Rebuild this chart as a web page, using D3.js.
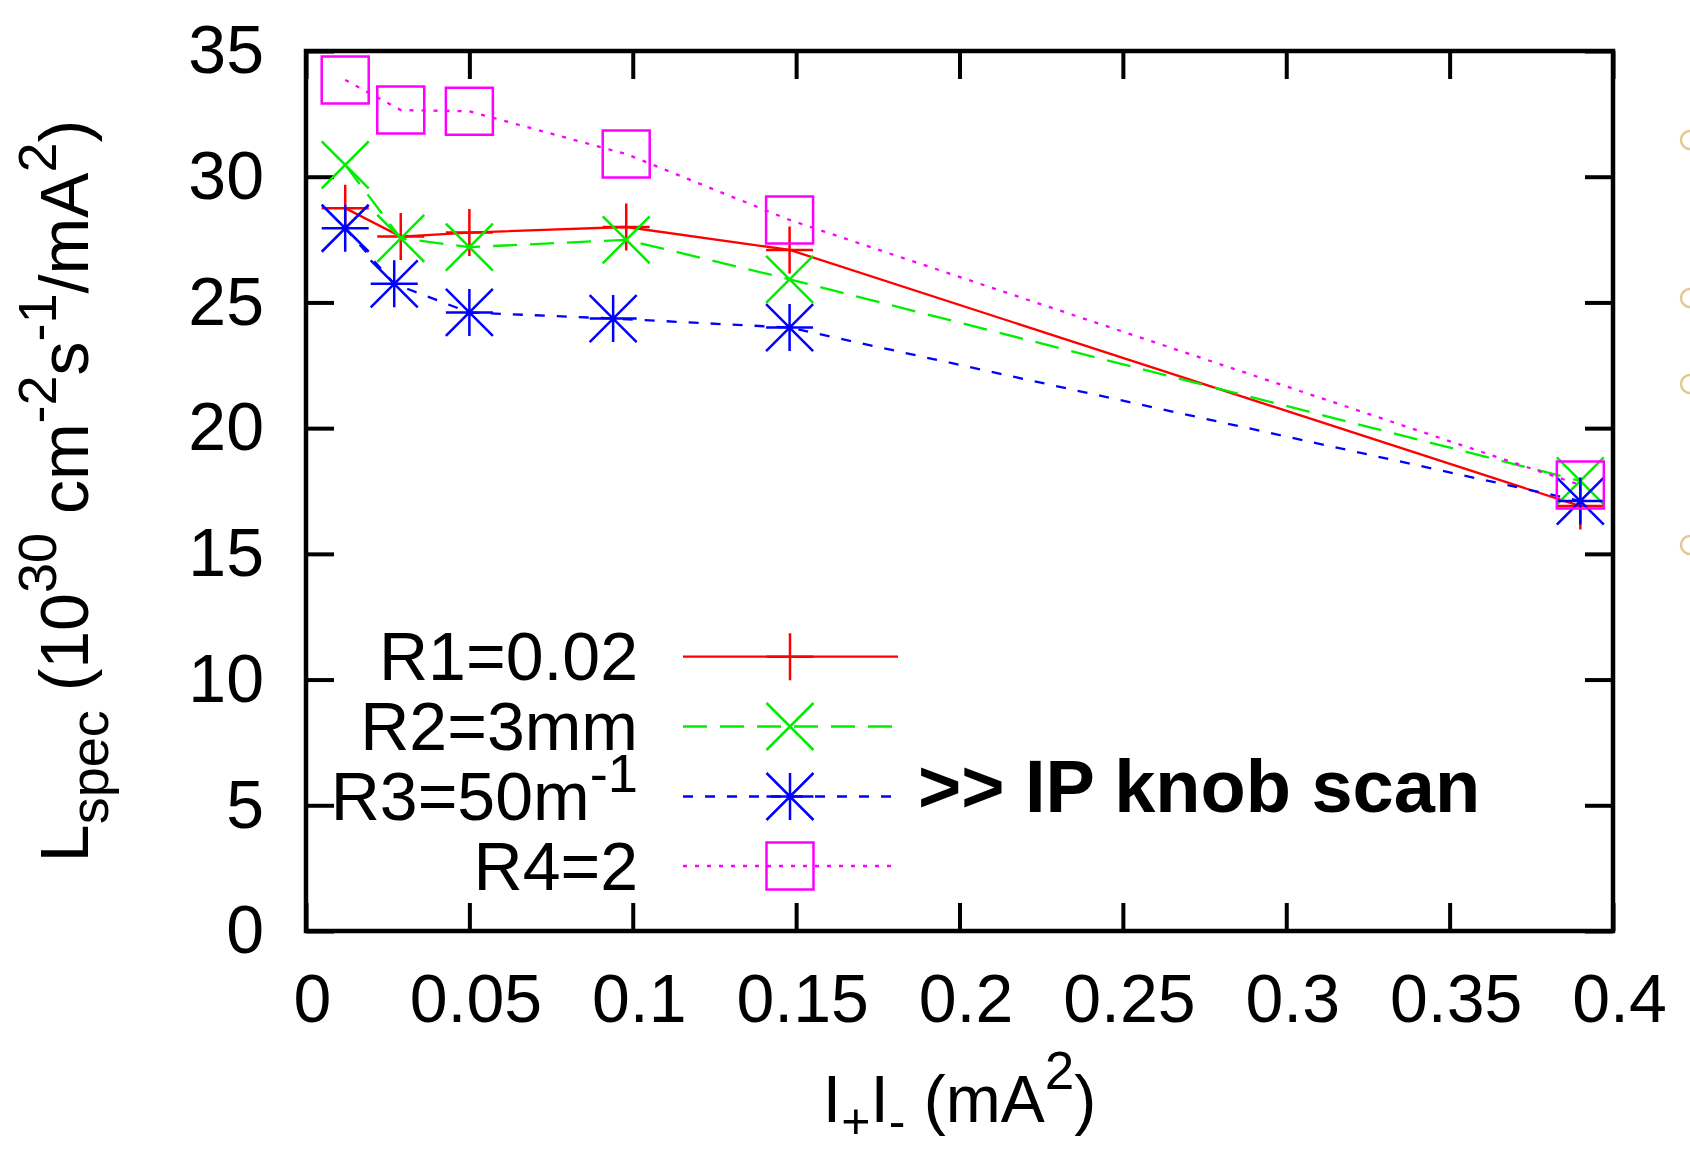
<!DOCTYPE html>
<html>
<head>
<meta charset="utf-8">
<script src="https://cdn.jsdelivr.net/npm/d3@7"></script>
<style>
  html, body { margin: 0; padding: 0; background: #fff; }
  svg { display: block; }
  text { font-family: "Liberation Sans", Arial, Helvetica, sans-serif; fill: #000; }
</style>
</head>
<body>
<svg id="chart" width="1690" height="1154"></svg>
<script>
// ---------------- data ----------------
const seriesNames = ["R1=0.02", "R2=3mm", "R3=50m", "R4=2"];
const xR1 = [0.012, 0.029, 0.050, 0.098, 0.148, 0.390];
const yR1 = [28.75, 27.62, 27.78, 28.00, 27.09, 16.90];
const xR2 = [0.012, 0.029, 0.050, 0.098, 0.148, 0.390];
const yR2 = [30.47, 27.55, 27.20, 27.49, 25.92, 17.90];
const xR3 = [0.012, 0.027, 0.050, 0.094, 0.148, 0.390];
const yR3 = [27.95, 25.74, 24.60, 24.36, 24.00, 17.10];
const xR4 = [0.012, 0.029, 0.050, 0.098, 0.148, 0.390];
const yR4 = [33.85, 32.65, 32.60, 30.90, 28.28, 17.74];
const xTicks = [0, 0.05, 0.1, 0.15, 0.2, 0.25, 0.3, 0.35, 0.4];
const xTickLabels = ["0", "0.05", "0.1", "0.15", "0.2", "0.25", "0.3", "0.35", "0.4"];
const yTicks = [0, 5, 10, 15, 20, 25, 30, 35];
const yTickLabels = ["0", "5", "10", "15", "20", "25", "30", "35"];

// ---------------- layout ----------------
const L = 306, R = 1613, T = 51, B = 931;
const FS = 68;
const svg = d3.select("#chart");

const x = d3.scaleLinear().domain([0, 0.4]).range([L, R]);
const y = d3.scaleLinear().domain([0, 35]).range([B, T]);

const series = [
  { name: seriesNames[0], xs: xR1, ys: yR1, color: "#ff0000", dash: null, marker: "plus" },
  { name: seriesNames[1], xs: xR2, ys: yR2, color: "#00ee00", dash: "24,13", marker: "cross" },
  { name: seriesNames[2], xs: xR3, ys: yR3, color: "#0000ff", dash: "10,12", marker: "star", sup: "-1" },
  { name: seriesNames[3], xs: xR4, ys: yR4, color: "#ff00ff", dash: "4,8", marker: "square" }
];

// ---------------- axes (gnuplot-like, ticks inside, mirrored) ----------------
const TL = 28;
const gx = svg.append("g").attr("transform", `translate(0,${B})`)
  .call(d3.axisBottom(x).tickValues(xTicks).tickFormat((d, i) => xTickLabels[i])
        .tickSizeInner(-TL).tickSizeOuter(0).tickPadding(43));
const gxt = svg.append("g").attr("transform", `translate(0,${T})`)
  .call(d3.axisTop(x).tickValues(xTicks).tickFormat("").tickSizeInner(-TL).tickSizeOuter(0));
const gy = svg.append("g").attr("transform", `translate(${L},0)`)
  .call(d3.axisLeft(y).tickValues(yTicks).tickFormat((d, i) => yTickLabels[i])
        .tickSizeInner(-TL).tickSizeOuter(0).tickPadding(42));
const gyr = svg.append("g").attr("transform", `translate(${R},0)`)
  .call(d3.axisRight(y).tickValues(yTicks).tickFormat("").tickSizeInner(-TL).tickSizeOuter(0));

[gx, gxt, gy, gyr].forEach(g => {
  g.select(".domain").remove();
  g.selectAll(".tick line").attr("stroke", "#000").attr("stroke-width", 4);
  g.selectAll(".tick text")
    .style("font-family", '"Liberation Sans", Arial, Helvetica, sans-serif')
    .style("font-size", FS + "px").attr("fill", "#000");
});
gx.selectAll(".tick text").attr("dx", 6);

// frame
svg.append("rect").attr("x", L).attr("y", T).attr("width", R - L).attr("height", B - T)
  .attr("fill", "none").attr("stroke", "#000").attr("stroke-width", 4.5);

// ---------------- markers ----------------
const MS = 23.5;
function markerPath(type, cx, cy) {
  const s = MS;
  const p = d3.path();
  if (type === "plus" || type === "star") {
    p.moveTo(cx - s, cy); p.lineTo(cx + s, cy);
    p.moveTo(cx, cy - s); p.lineTo(cx, cy + s);
  }
  if (type === "cross" || type === "star") {
    p.moveTo(cx - s, cy - s); p.lineTo(cx + s, cy + s);
    p.moveTo(cx - s, cy + s); p.lineTo(cx + s, cy - s);
  }
  if (type === "square") {
    p.rect(cx - s, cy - s, 2 * s, 2 * s);
  }
  return p.toString();
}

// ---------------- series ----------------
const line = d3.line();
series.forEach(s => {
  const pts = s.xs.map((v, i) => [x(v), y(s.ys[i])]);
  const g = svg.append("g");
  g.append("path").attr("d", line(pts)).attr("fill", "none")
    .attr("stroke", s.color).attr("stroke-width", 2.3)
    .attr("stroke-dasharray", s.dash);
  g.selectAll("path.m").data(pts).enter().append("path").attr("class", "m")
    .attr("d", d => markerPath(s.marker, d[0], d[1]))
    .attr("fill", "none").attr("stroke", s.color).attr("stroke-width", 2.5);
});

// ---------------- legend ----------------
const legRows = [656.7, 726.5, 796.5, 866];
series.forEach((s, i) => {
  const ry = legRows[i];
  const t = svg.append("text").attr("x", 638).attr("y", ry + 23.5)
    .attr("text-anchor", "end").style("font-size", FS + "px");
  t.append("tspan").text(s.name);
  if (s.sup) {
    t.append("tspan").attr("dy", -28).style("font-size", (FS * 0.8) + "px").text(s.sup);
  }
  svg.append("line").attr("x1", 683).attr("x2", 898).attr("y1", ry).attr("y2", ry)
    .attr("stroke", s.color).attr("stroke-width", 2.3).attr("stroke-dasharray", s.dash);
  svg.append("path").attr("d", markerPath(s.marker, 790, ry))
    .attr("fill", "none").attr("stroke", s.color).attr("stroke-width", 2.5);
});

// annotation
svg.append("text").attr("x", 918).attr("y", 812)
  .style("font-size", "74px").style("font-weight", "bold")
  .text(">> IP knob scan");

// ---------------- axis titles ----------------
const xl = svg.append("text").attr("x", (L + R) / 2).attr("y", 1122)
  .attr("text-anchor", "middle").style("font-size", "66px");
xl.append("tspan").text("I");
xl.append("tspan").attr("dy", 16).style("font-size", "50px").text("+");
xl.append("tspan").attr("dy", -16).text("I");
xl.append("tspan").attr("dy", 16).style("font-size", "50px").text("-");
xl.append("tspan").attr("dy", -16).text(" (mA");
xl.append("tspan").attr("dy", -33).style("font-size", "53px").text("2");
xl.append("tspan").attr("dy", 33).text(")");

const yl = svg.append("text").attr("transform", `translate(88,${(T + B) / 2}) rotate(-90)`)
  .attr("text-anchor", "middle").style("font-size", FS + "px");
yl.append("tspan").text("L");
yl.append("tspan").attr("dy", 20).style("font-size", "54px").text("spec");
yl.append("tspan").attr("dy", -20).text(" (10");
yl.append("tspan").attr("dy", -32).style("font-size", "54px").text("30");
yl.append("tspan").attr("dy", 32).text(" cm");
yl.append("tspan").attr("dy", -32).style("font-size", "54px").text("-2");
yl.append("tspan").attr("dy", 32).text("s");
yl.append("tspan").attr("dy", -32).style("font-size", "54px").text("-1");
yl.append("tspan").attr("dy", 32).text("/mA");
yl.append("tspan").attr("dy", -32).style("font-size", "54px").text("2");
yl.append("tspan").attr("dy", 32).text(")");

// faint cropped fragments at the right edge of the reference image
const edgeY = [140, 298, 384, 545];
svg.selectAll("path.edge").data(edgeY).enter().append("path").attr("class", "edge")
  .attr("d", d => `M1690,${d - 9} A9,9 0 0 0 1690,${d + 9}`)
  .attr("fill", "none").attr("stroke", "#e2c992").attr("stroke-width", 2.5);
</script>
</body>
</html>
